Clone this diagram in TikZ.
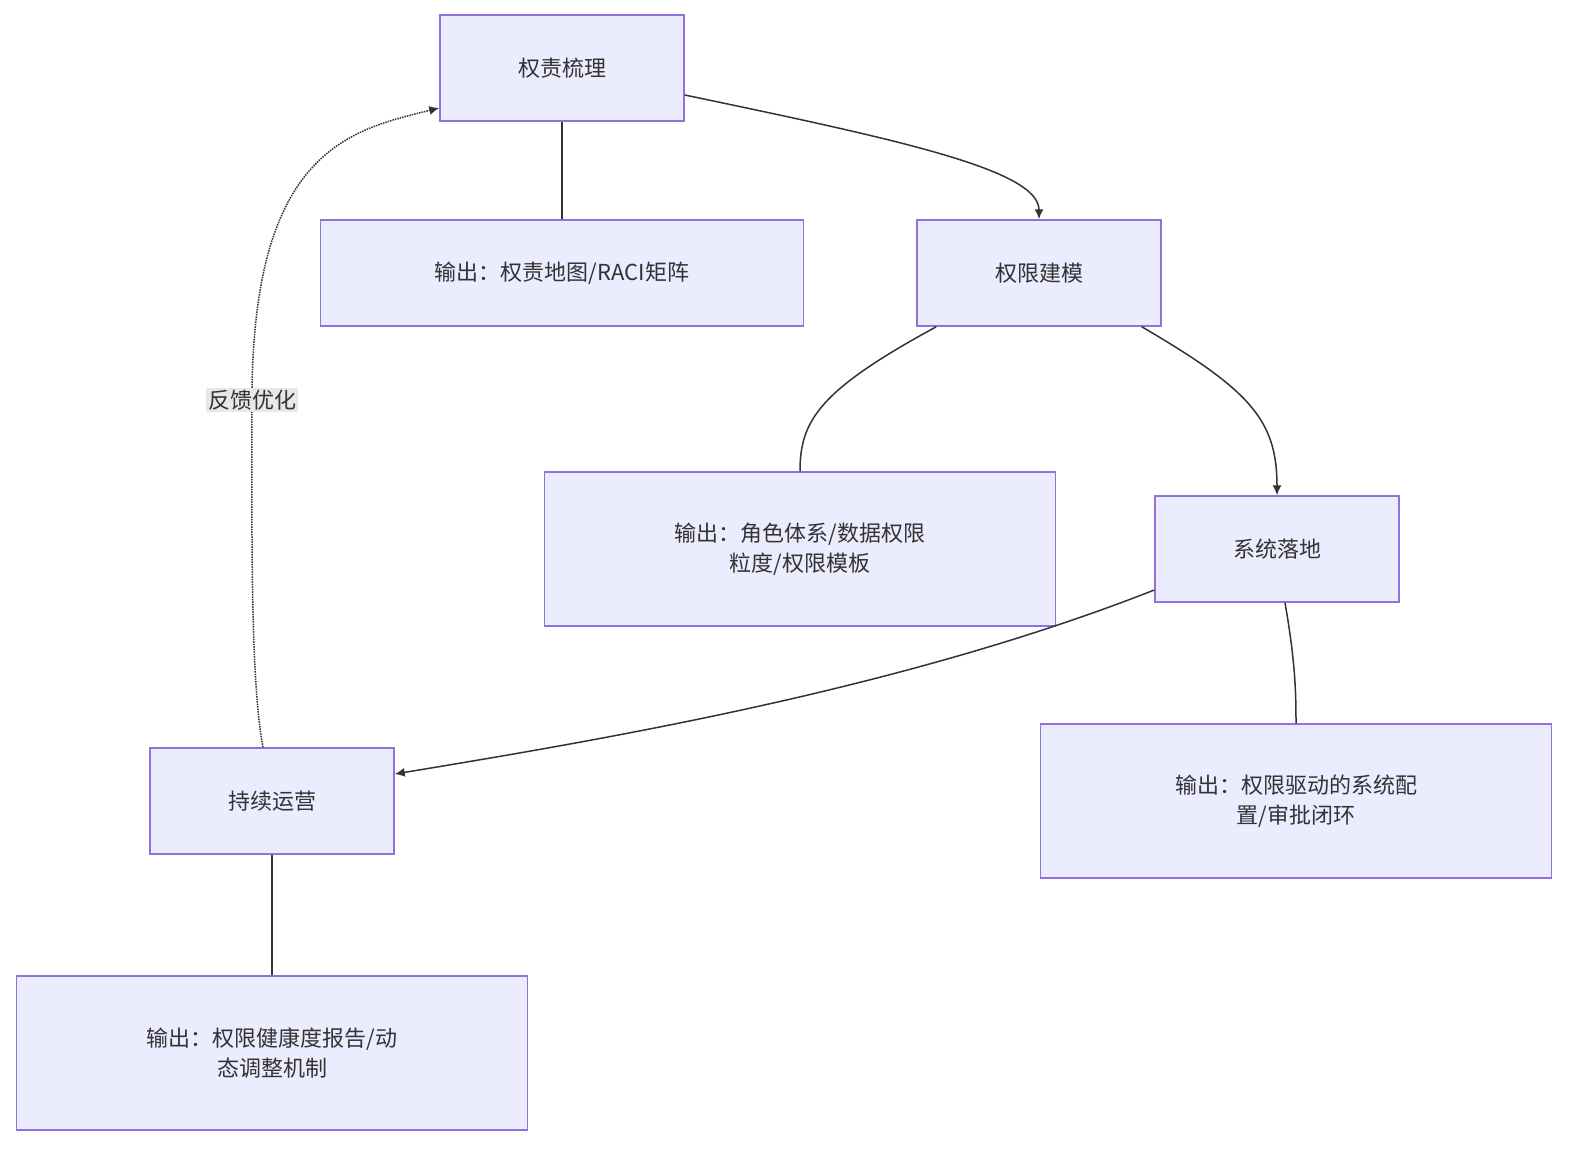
\documentclass[tikz,border=0pt]{standalone}
\usepackage{fontspec}
\setmainfont{Noto Sans CJK SC}
\usetikzlibrary{arrows.meta}
\definecolor{boxfill}{HTML}{ECECFF}
\definecolor{boxline}{HTML}{9370DB}
\definecolor{edge}{HTML}{333333}
\definecolor{lblbg}{HTML}{E8E8E8}
\tikzset{
  stage/.style={draw=boxline, fill=boxfill, line width=1.5pt, minimum width=244pt, minimum height=106pt, font=\fontsize{22}{30}\selectfont, text=edge},
  result/.style={stage, minimum width=511pt, minimum height=154pt, align=center},
  link/.style={draw=edge, line width=1.5pt},
  flow/.style={link, -{Latex[length=10pt,width=9pt]}}
}
\begin{document}
\begin{tikzpicture}[x=1pt, y=-1pt]
\useasboundingbox (0,0) rectangle (1593,1164);
% stages
\node[stage] (sort) at (562,68) {权责梳理};
\node[stage] (model) at (1039,273) {权限建模};
\node[stage] (sys) at (1277,549) {系统落地};
\node[stage] (ops) at (272,801) {持续运营};

% results
\node[stage, minimum width=483pt] (sortout) at (562,273) {输出：权责地图/RACI矩阵};
\node[result] (modelout) at (800,549) {输出：角色体系/数据权限\\粒度/权限模板};
\node[result] (sysout) at (1296,801) {输出：权限驱动的系统配\\置/审批闭环};
\node[result] (opsout) at (272,1053) {输出：权限健康度报告/动\\态调整机制};
\coordinate (fbmid) at (252,400);

% connectors
\draw[flow] (sort.east |- 0,95) .. controls (900,140) and (1039,170) .. (model.north);
\draw[link] (sort) -- (sortout);
\draw[link] (model.south west) ++(20,0) .. controls (820,390) and (800,420) .. (modelout.north);
\draw[flow] (model.south east) ++(-20,0) .. controls (1250,390) and (1277,420) .. (sys.north);
\draw[flow] (sys.west |- 0,590) .. controls (900,690) and (600,740) .. (ops.east |- 0,774);
\draw[link] (sys.south) ++(8,0) .. controls (1295,660) and (1296,690) .. (sysout.north);
\draw[link] (ops) -- (opsout);
\draw[flow, densely dotted] (ops.north) ++(-9,0) .. controls (250,680) and (252,520) .. (fbmid)
  .. controls (252,150) and (350,130) .. (sort.west |- 0,108);
\node[inner sep=2pt, fill=lblbg, text=edge, font=\fontsize{22}{30}\selectfont] (fb) at (fbmid) {反馈优化};
\end{tikzpicture}
\end{document}
